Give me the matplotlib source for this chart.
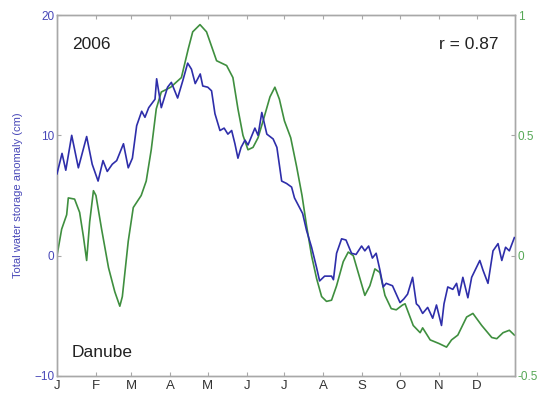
import matplotlib
matplotlib.use("Agg")
import matplotlib.pyplot as plt

plt.rcParams['font.family'] = ['Liberation Sans', 'DejaVu Sans']

# Day of year and total water storage anomaly (cm)
tws_day = [0, 4, 7, 11.7, 17, 23.6, 28, 32.7, 36.6, 40, 44, 47.5, 52.9, 56.7, 60,
           63.4, 67.4, 70, 73, 78, 79.3, 83, 88, 91, 96, 100, 104, 107, 110, 114,
           116, 120, 123, 125.7, 129.7, 133, 136, 139, 141.6, 144, 146.5, 149.6,
           152, 157.5, 160, 163, 167, 172, 175, 178.8, 182.7, 186.7, 189, 193,
           195.5, 198.6, 202.6, 206.6, 209, 213, 218.5, 220, 222.5, 226.5, 230,
           234.4, 238, 242.4, 245, 248, 251, 254, 257, 259.6, 262, 267, 273, 276,
           279, 283, 286, 288, 291, 295, 299, 302, 306, 308, 311, 315, 318, 320,
           323, 327, 330, 336.5, 339, 343, 347, 351, 354, 357, 360, 364]
tws_val = [6.8, 8.5, 7.1, 10.0, 7.3, 9.9, 7.6, 6.2, 7.9, 7.0, 7.6, 7.9, 9.3, 7.3, 8.1,
           10.8, 12.0, 11.5, 12.3, 13.0, 14.7, 12.3, 14.0, 14.4, 13.1, 14.5, 16.0, 15.5,
           14.3, 15.1, 14.1, 14.0, 13.7, 11.8, 10.4, 10.6, 10.1, 10.4, 9.3, 8.1, 9.0,
           9.6, 9.2, 10.6, 10.0, 11.9, 10.1, 9.7, 9.0, 6.2, 6.0, 5.7, 4.8, 4.0, 3.5,
           2.1, 0.7, -1.0, -2.1, -1.7, -1.7, -2.0, 0.2, 1.4, 1.3, 0.2, 0.1, 0.8, 0.4,
           0.8, -0.2, 0.2, -1.2, -2.6, -2.3, -2.5, -3.9, -3.6, -3.2, -1.8, -4.0, -4.2,
           -4.8, -4.3, -5.2, -4.1, -5.8, -4.0, -2.6, -2.8, -2.3, -3.3, -1.8, -3.5,
           -1.8, -0.4, -1.2, -2.3, 0.4, 1.0, -0.4, 0.7, 0.4, 1.5]

# Day of year and normalized index (right axis)
idx_day = [0, 3.7, 7.7, 9, 14, 18, 21, 23.6, 26, 29, 31, 35.5, 41, 46, 50, 52, 56.7,
           60.7, 67, 71, 75, 79, 83, 90.5, 99, 104.5, 108, 113.8, 119, 123, 127, 131,
           135, 140, 144, 148, 152, 156, 160, 164, 169.5, 173.4, 177, 181, 186,
           190.7, 195, 198.6, 202.6, 206.6, 210.6, 214.5, 218.5, 222.5, 227.8,
           231.8, 235.8, 239.7, 245, 249, 253, 257, 261, 266, 270, 275, 277, 283.5,
           289, 291, 297, 304, 310, 314, 319, 326, 331, 338, 346, 350, 355, 360, 364]
idx_val = [0.0, 0.11, 0.17, 0.24, 0.235, 0.18, 0.08, -0.02, 0.14, 0.27, 0.25, 0.11,
           -0.05, -0.15, -0.21, -0.17, 0.06, 0.20, 0.25, 0.31, 0.44, 0.61, 0.68, 0.70,
           0.74, 0.86, 0.93, 0.96, 0.93, 0.87, 0.81, 0.80, 0.79, 0.74, 0.61, 0.50,
           0.44, 0.45, 0.49, 0.56, 0.66, 0.70, 0.65, 0.56, 0.49, 0.37, 0.25, 0.125,
           0.0, -0.095, -0.17, -0.19, -0.185, -0.125, -0.025, 0.015, 0.0, -0.07,
           -0.165, -0.125, -0.055, -0.07, -0.165, -0.22, -0.225, -0.205, -0.2, -0.29,
           -0.32, -0.30, -0.35, -0.365, -0.38, -0.35, -0.33, -0.255, -0.24, -0.29,
           -0.34, -0.345, -0.32, -0.31, -0.33]

month_start = [0, 31, 59, 90, 120, 151, 181, 212, 243, 273, 304, 334]
month_labels = ['J', 'F', 'M', 'A', 'M', 'J', 'J', 'A', 'S', 'O', 'N', 'D']

BLUE = '#2e2eaa'
GREEN = '#3f8f3f'
TICK_BLUE = '#4848b8'
TICK_GREEN = '#56a856'
SPINE = '#a8a8a8'

fig = plt.figure(figsize=(5.48, 3.97), dpi=100)
ax = fig.add_axes([57 / 548, 21 / 397, 458 / 548, 361 / 397])
ax2 = ax.twinx()

ax.plot(tws_day, tws_val, color=BLUE, lw=1.2, zorder=3)
ax2.plot(idx_day, idx_val, color=GREEN, lw=1.2)
ax.set_zorder(ax2.get_zorder() + 1)
ax.patch.set_visible(False)

ax.set_xlim(0, 364.5)
ax.set_ylim(-10, 20)
ax2.set_ylim(-0.5, 1)

ax.set_xticks(month_start)
ax.set_xticklabels(month_labels, fontsize=9.5, color='#333333')
ax.set_yticks([-10, 0, 10, 20])
ax.tick_params(axis='y', colors=SPINE, labelcolor=TICK_BLUE, labelsize=8.5,
               direction='in', length=3, pad=2)
ax.tick_params(axis='x', colors=SPINE, labelcolor='#333333', direction='in',
               length=3, pad=3, top=True)
ax2.set_yticks([-0.5, 0, 0.5, 1])
ax2.set_yticklabels(['-0.5', '0', '0.5', '1'])
ax2.tick_params(axis='y', colors=SPINE, labelcolor=TICK_GREEN, labelsize=8.5,
                direction='in', length=3, pad=2)

for a in (ax, ax2):
    for s in a.spines.values():
        s.set_color(SPINE)
        s.set_linewidth(1.0)

ax.set_ylabel('Total water storage anomaly (cm)', color=TICK_BLUE, fontsize=8,
              labelpad=8)
ax2.set_ylabel('Normalized index', color=TICK_GREEN, fontsize=8, labelpad=28)

ax.text(0.033, 0.94, '2006', transform=ax.transAxes, fontsize=12.5,
        color='#222222', va='top', ha='left')
ax.text(0.965, 0.94, 'r = 0.87', transform=ax.transAxes, fontsize=12.5,
        color='#222222', va='top', ha='right')
ax.text(0.033, 0.045, 'Danube', transform=ax.transAxes, fontsize=12.5,
        color='#222222', va='bottom', ha='left')

fig.savefig('out.png', dpi=100)
